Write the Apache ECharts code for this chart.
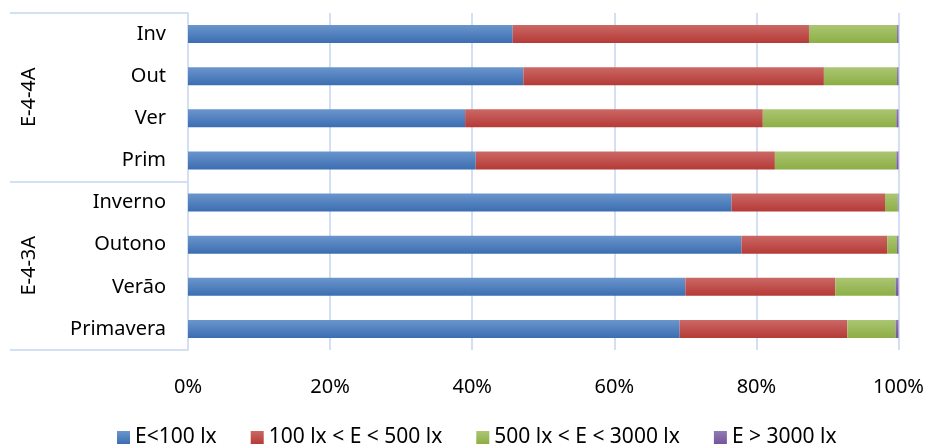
<!DOCTYPE html>
<html>
<head>
<meta charset="utf-8">
<script src="https://cdn.jsdelivr.net/npm/echarts@6/dist/echarts.min.js"></script>
<style>html,body{margin:0;padding:0;background:#fff}#c{width:927px;height:444px}</style>
</head>
<body>
<div id="c"></div>
<script>
const categories = ['Inv', 'Out', 'Ver', 'Prim', 'Inverno', 'Outono', 'Verão', 'Primavera'];
const groups = ['E-4-4A', 'E-4-3A'];
const seriesNames = ['E<100 lx', '100 lx < E < 500 lx', '500 lx < E < 3000 lx', 'E > 3000 lx'];
const below100 = [45.7, 47.2, 39.0, 40.5, 76.5, 77.9, 70.0, 69.2];
const from100to500 = [41.7, 42.3, 41.9, 42.1, 21.6, 20.5, 21.1, 23.6];
const from500to3000 = [12.4, 10.3, 18.8, 17.1, 1.8, 1.4, 8.5, 6.8];
const above3000 = [0.2, 0.2, 0.3, 0.3, 0.1, 0.2, 0.4, 0.4];
const xTicks = [0, 20, 40, 60, 80, 100];

const palette = [
  ['#6b96cc', '#3b6db1'],
  ['#cb6865', '#b53a37'],
  ['#abc673', '#8dae45'],
  ['#927ab4', '#73569a']
];
const grad = (c) => new echarts.graphic.LinearGradient(0, 0, 0, 1, [
  { offset: 0, color: c[0] }, { offset: 1, color: c[1] }
]);
const valueSets = [below100, from100to500, from500to3000, above3000];
const font = '"Noto Sans", "Open Sans", sans-serif';
const frameColor = '#d3e0f3';

const chart = echarts.init(document.getElementById('c'), null, { renderer: 'canvas' });
chart.setOption({
  animation: false,
  textStyle: { fontFamily: font },
  grid: { left: 188, right: 28.5, top: 13, bottom: 94, containLabel: false },
  legend: {
    left: 112, top: 422,
    itemWidth: 13, itemHeight: 13, itemGap: 34,
    icon: 'rect',
    textStyle: { fontFamily: font, fontSize: 21, color: '#000' },
    data: seriesNames
  },
  xAxis: {
    type: 'value', min: xTicks[0], max: xTicks[xTicks.length - 1], interval: 20,
    axisLine: { show: false }, axisTick: { show: false },
    axisLabel: { formatter: '{value}%', fontSize: 20, color: '#000', margin: 27, fontFamily: font },
    splitLine: { show: true, lineStyle: { color: frameColor, width: 2 } }
  },
  yAxis: [
    {
      type: 'category', data: categories, inverse: true,
      axisLine: { show: true, lineStyle: { color: frameColor, width: 2 } },
      axisTick: { show: false },
      axisLabel: { fontSize: 20, color: '#000', margin: 22, fontFamily: font }
    },
    {
      type: 'category', data: groups, inverse: true, position: 'left', offset: 178,
      axisLine: { show: false },
      axisTick: { show: true, inside: true, length: 178, alignWithLabel: false, lineStyle: { color: frameColor, width: 2 } },
      axisLabel: { rotate: 90, inside: true, margin: 19, fontSize: 20, color: '#000', fontFamily: font, align: 'center', verticalAlign: 'middle' }
    }
  ],
  series: seriesNames.map((name, i) => ({
    name, type: 'bar', stack: 'total', yAxisIndex: 0, barWidth: 18,
    itemStyle: { color: grad(palette[i]) },
    data: valueSets[i]
  }))
});
</script>
</body>
</html>
